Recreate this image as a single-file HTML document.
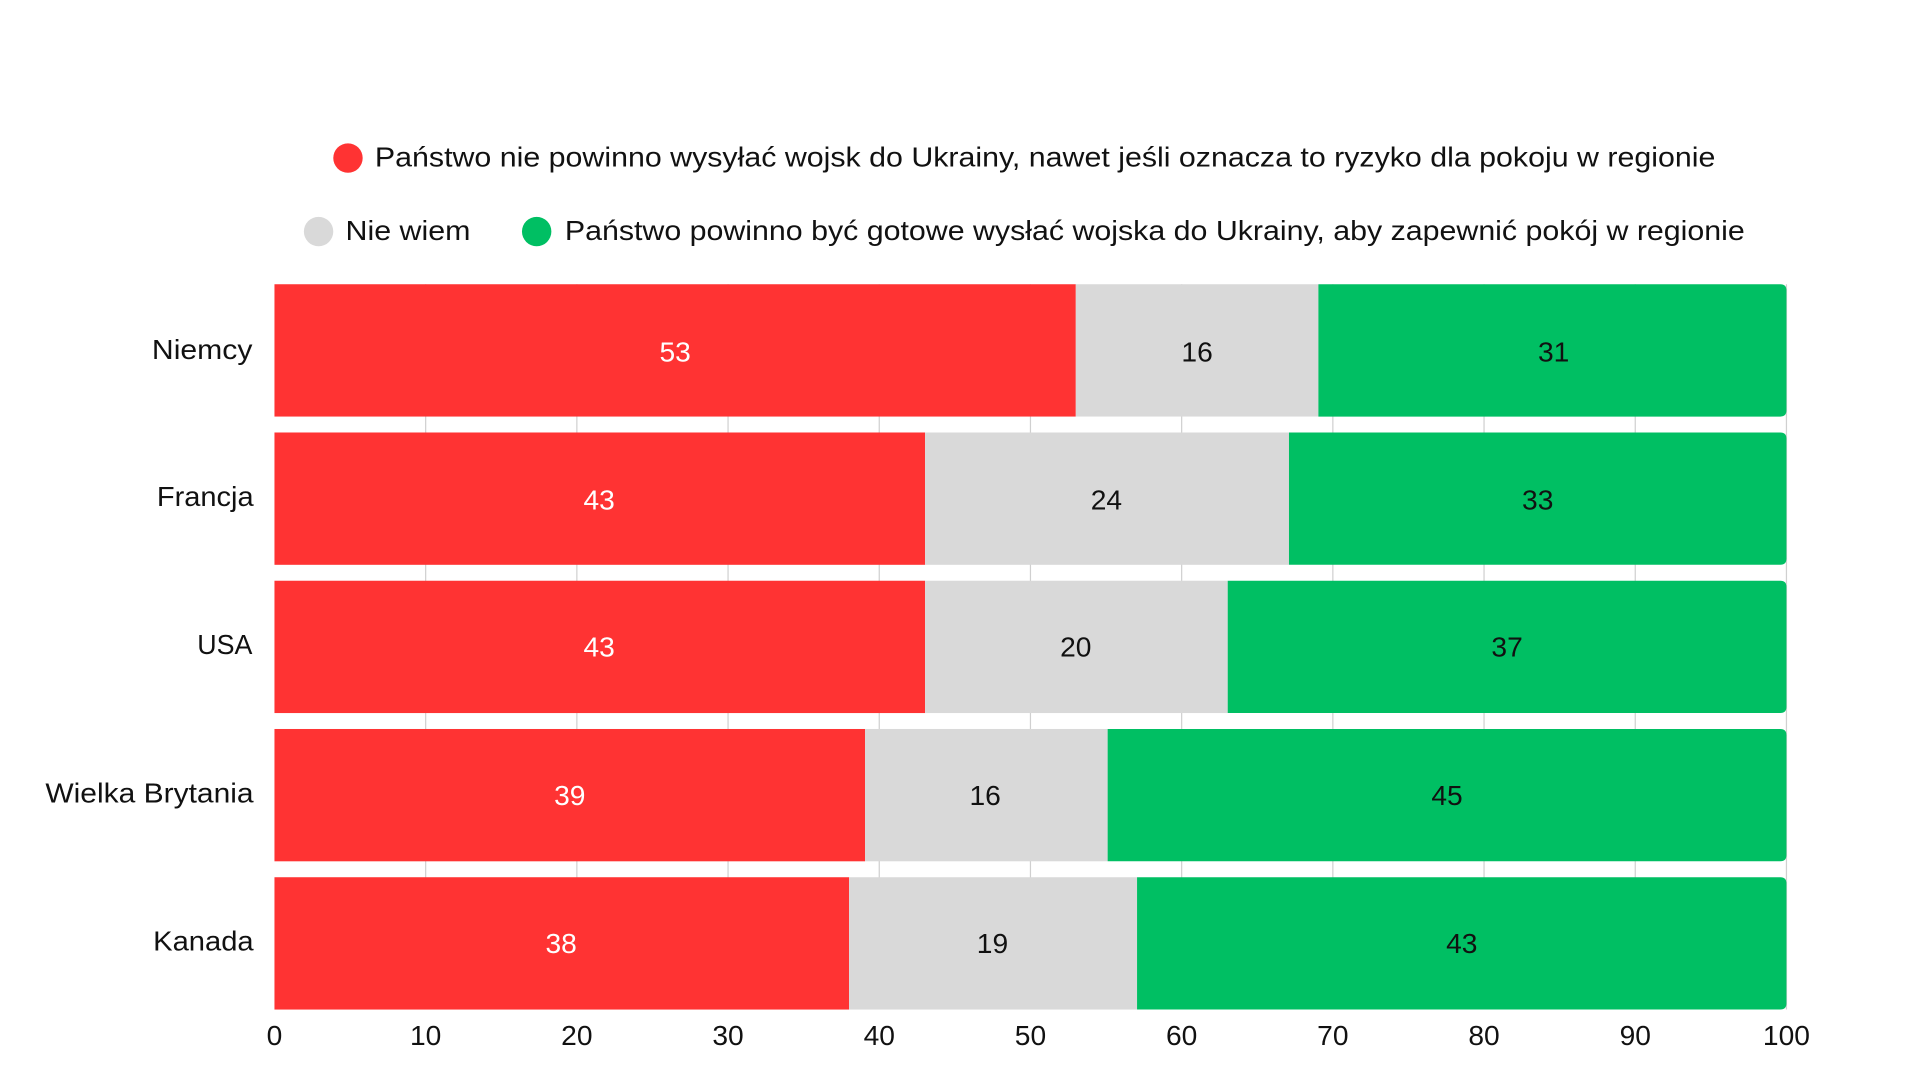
<!DOCTYPE html>
<html><head><meta charset="utf-8"><style>
html,body{margin:0;padding:0;background:#fff;width:1920px;height:1080px;overflow:hidden}
svg{display:block}
text{font-family:"Liberation Sans",sans-serif}
</style></head><body>
<svg width="1920" height="1080" viewBox="0 0 1567 881.5" preserveAspectRatio="none">
<g stroke="#d0d0d0" stroke-width="1">
<line x1="347.4" y1="232" x2="347.4" y2="824"/><line x1="470.8" y1="232" x2="470.8" y2="824"/>
<line x1="594.2" y1="232" x2="594.2" y2="824"/><line x1="717.6" y1="232" x2="717.6" y2="824"/>
<line x1="841" y1="232" x2="841" y2="824"/><line x1="964.4" y1="232" x2="964.4" y2="824"/>
<line x1="1087.8" y1="232" x2="1087.8" y2="824"/><line x1="1211.2" y1="232" x2="1211.2" y2="824"/>
<line x1="1334.6" y1="232" x2="1334.6" y2="824"/><line x1="1458" y1="232" x2="1458" y2="824"/>
</g>
<g font-size="23" text-anchor="middle" fill="#111">
<text x="224" y="853">0</text><text x="347.4" y="853">10</text><text x="470.8" y="853">20</text>
<text x="594.2" y="853">30</text><text x="717.6" y="853">40</text><text x="841" y="853">50</text>
<text x="964.4" y="853">60</text><text x="1087.8" y="853">70</text><text x="1211.2" y="853">80</text>
<text x="1334.6" y="853">90</text><text x="1458" y="853">100</text>
</g>
<circle cx="284" cy="129" r="12" fill="#ff3333"/>
<text x="306" y="136" font-size="23" fill="#111" textLength="1094" lengthAdjust="spacingAndGlyphs">Państwo nie powinno wysyłać wojsk do Ukrainy, nawet jeśli oznacza to ryzyko dla pokoju w regionie</text>
<circle cx="260" cy="189" r="12" fill="#d9d9d9"/>
<text x="282" y="196" font-size="23" fill="#111" textLength="102" lengthAdjust="spacingAndGlyphs">Nie wiem</text>
<circle cx="438" cy="189" r="12" fill="#00bf63"/>
<text x="461" y="196" font-size="23" fill="#111" textLength="963" lengthAdjust="spacingAndGlyphs">Państwo powinno być gotowe wysłać wojska do Ukrainy, aby zapewnić pokój w regionie</text>
<g font-size="23" text-anchor="middle">
<rect x="224" y="232" width="654" height="108" fill="#ff3333"/>
<rect x="878" y="232" width="198" height="108" fill="#d9d9d9"/>
<path d="M1076 232 H1453 Q1458 232 1458 237 V335 Q1458 340 1453 340 H1076 Z" fill="#00bf63"/>
<text x="551" y="295" fill="#fff">53</text><text x="977" y="295" fill="#111">16</text><text x="1268" y="295" fill="#111">31</text>
<rect x="224" y="353" width="531" height="108" fill="#ff3333"/>
<rect x="755" y="353" width="297" height="108" fill="#d9d9d9"/>
<path d="M1052 353 H1453 Q1458 353 1458 358 V456 Q1458 461 1453 461 H1052 Z" fill="#00bf63"/>
<text x="489" y="416" fill="#fff">43</text><text x="903" y="416" fill="#111">24</text><text x="1255" y="416" fill="#111">33</text>
<rect x="224" y="474" width="531" height="108" fill="#ff3333"/>
<rect x="755" y="474" width="247" height="108" fill="#d9d9d9"/>
<path d="M1002 474 H1453 Q1458 474 1458 479 V577 Q1458 582 1453 582 H1002 Z" fill="#00bf63"/>
<text x="489" y="536" fill="#fff">43</text><text x="878" y="536" fill="#111">20</text><text x="1230" y="536" fill="#111">37</text>
<rect x="224" y="595" width="482" height="108" fill="#ff3333"/>
<rect x="706" y="595" width="198" height="108" fill="#d9d9d9"/>
<path d="M904 595 H1453 Q1458 595 1458 600 V698 Q1458 703 1453 703 H904 Z" fill="#00bf63"/>
<text x="465" y="657" fill="#fff">39</text><text x="804" y="657" fill="#111">16</text><text x="1181" y="657" fill="#111">45</text>
<rect x="224" y="716" width="469" height="108" fill="#ff3333"/>
<rect x="693" y="716" width="235" height="108" fill="#d9d9d9"/>
<path d="M928 716 H1453 Q1458 716 1458 721 V819 Q1458 824 1453 824 H928 Z" fill="#00bf63"/>
<text x="458" y="778" fill="#fff">38</text><text x="810" y="778" fill="#111">19</text><text x="1193" y="778" fill="#111">43</text>
</g>
<g font-size="23" text-anchor="end" fill="#111">
<text x="206" y="293" textLength="82" lengthAdjust="spacingAndGlyphs">Niemcy</text>
<text x="207" y="413" textLength="79" lengthAdjust="spacingAndGlyphs">Francja</text>
<text x="206" y="534" textLength="45" lengthAdjust="spacingAndGlyphs">USA</text>
<text x="207" y="655" textLength="170" lengthAdjust="spacingAndGlyphs">Wielka Brytania</text>
<text x="207" y="776" textLength="82" lengthAdjust="spacingAndGlyphs">Kanada</text>
</g>
</svg>
</body></html>
